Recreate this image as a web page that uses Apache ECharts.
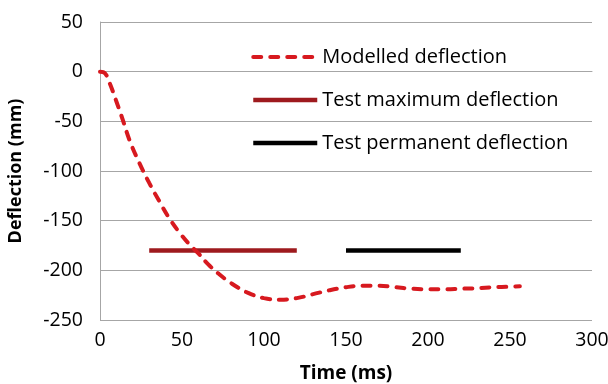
<!DOCTYPE html>
<html>
<head>
<meta charset="utf-8">
<script src="https://cdn.jsdelivr.net/npm/echarts@6/dist/echarts.min.js"></script>
<style>
  html, body { margin: 0; padding: 0; background: #fff; }
  #chart { width: 608px; height: 384px; }
</style>
</head>
<body>
<div id="chart"></div>
<script>
// Modelled deflection history (time in ms, deflection in mm)
const modelTime = [0, 3, 6, 10, 14, 18, 24, 30, 36, 42, 48, 54, 60, 66, 72, 80, 90, 100, 110, 120, 130, 140, 150, 160, 170, 180, 190, 200, 210, 220, 230, 240, 250, 256];
const modelDefl = [0, -1.5, -12, -30, -49, -69, -92, -112, -130, -147, -161, -173, -183, -194, -203, -213, -222.5, -228, -229.5, -228, -224, -220, -217, -215.5, -215.5, -217, -218.5, -219, -219, -218.5, -218, -217, -216.5, -216];

// Measured values, drawn as horizontal bars over the test window
const testMaxTime = [30, 120];
const testMaxDefl = [-180, -180];
const testPermTime = [150, 220];
const testPermDefl = [-180, -180];

const xTicks = [0, 50, 100, 150, 200, 250, 300];
const yTicks = [-250, -200, -150, -100, -50, 0, 50];

const pairs = (xs, ys) => xs.map((x, i) => [x, ys[i]]);

const FONT = '"Open Sans", "Liberation Sans", sans-serif';
const RED = '#d7191f';
const DARK_RED = '#9e1a1e';
const BLACK = '#000000';
const DASH = [8, 9];

const chart = echarts.init(document.getElementById('chart'), null, { renderer: 'canvas' });

chart.setOption({
  animation: false,
  backgroundColor: '#ffffff',
  textStyle: { fontFamily: FONT },
  grid: { left: 100, right: 16, top: 22, bottom: 64, containLabel: false, outerBoundsMode: 'none' },
  xAxis: {
    type: 'value',
    min: xTicks[0],
    max: xTicks[xTicks.length - 1],
    interval: 50,
    name: 'Time (ms)',
    nameLocation: 'middle',
    nameGap: 44,
    nameTextStyle: { fontFamily: FONT, fontSize: 19, fontWeight: 'bold', color: '#000' },
    axisLine: { show: true, lineStyle: { color: '#a6a6a6', width: 1 } },
    axisTick: { show: false },
    splitLine: { show: false },
    axisLabel: { fontFamily: FONT, fontSize: 19.5, color: '#000', margin: 10 }
  },
  yAxis: {
    type: 'value',
    min: yTicks[0],
    max: yTicks[yTicks.length - 1],
    interval: 50,
    name: 'Deflection (mm)',
    nameLocation: 'middle',
    nameGap: 75,
    nameTextStyle: { fontFamily: FONT, fontSize: 18, fontWeight: 'bold', color: '#000' },
    axisLine: { show: true, lineStyle: { color: '#a6a6a6', width: 1 } },
    axisTick: { show: false },
    splitLine: { show: true, lineStyle: { color: '#a6a6a6', width: 1 } },
    axisLabel: { fontFamily: FONT, fontSize: 19.5, color: '#000', margin: 17 }
  },
  legend: {
    orient: 'vertical',
    left: 246,
    top: 42,
    itemWidth: 64,
    itemHeight: 5,
    itemGap: 23,
    itemStyle: { opacity: 0, borderWidth: 0 },
    textStyle: { fontFamily: FONT, fontSize: 20, color: '#000' },
    data: [
      { name: 'Modelled deflection', lineStyle: { color: RED, width: 4, type: DASH, cap: 'round' } },
      { name: 'Test maximum deflection', lineStyle: { color: DARK_RED, width: 4.5 } },
      { name: 'Test permanent deflection', lineStyle: { color: BLACK, width: 4.5 } }
    ]
  },
  series: [
    {
      name: 'Modelled deflection',
      type: 'line',
      data: pairs(modelTime, modelDefl),
      smooth: 0.4,
      symbol: 'none',
      lineStyle: { color: RED, width: 4, type: DASH, cap: 'round' },
      itemStyle: { color: RED },
      z: 3
    },
    {
      name: 'Test maximum deflection',
      type: 'line',
      data: pairs(testMaxTime, testMaxDefl),
      symbol: 'none',
      lineStyle: { color: DARK_RED, width: 4.5 },
      itemStyle: { color: DARK_RED },
      z: 2
    },
    {
      name: 'Test permanent deflection',
      type: 'line',
      data: pairs(testPermTime, testPermDefl),
      symbol: 'none',
      lineStyle: { color: BLACK, width: 4.5 },
      itemStyle: { color: BLACK },
      z: 2
    }
  ]
});
</script>
</body>
</html>
